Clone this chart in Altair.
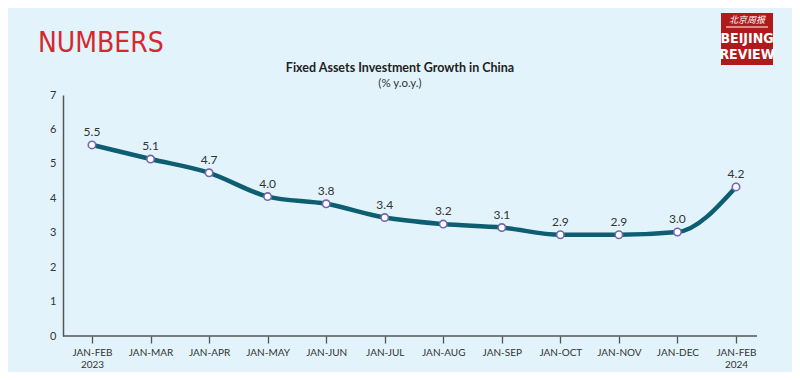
import altair as alt
import pandas as pd

periods = ["JAN-FEB 2023", "JAN-MAR", "JAN-APR", "JAN-MAY", "JAN-JUN", "JAN-JUL",
           "JAN-AUG", "JAN-SEP", "JAN-OCT", "JAN-NOV", "JAN-DEC", "JAN-FEB 2024"]
values = [5.55, 5.14, 4.74, 4.05, 3.84, 3.44, 3.25, 3.15, 2.94, 2.94, 3.02, 4.33]
labels = ["5.5", "5.1", "4.7", "4.0", "3.8", "3.4", "3.2", "3.1", "2.9", "2.9", "3.0", "4.2"]
y_ticks = [0, 1, 2, 3, 4, 5, 6, 7]

df = pd.DataFrame({"idx": list(range(len(periods))), "period": periods,
                   "value": values, "label": labels})
one = pd.DataFrame({"k": [0]})

W, H = 694, 241
BG = "#E2F3FB"
FONT = "Lato"
NARROW = "Liberation Sans Narrow, DejaVu Sans Condensed, Roboto, sans-serif"

arr = "[" + ",".join("'" + p + "'" for p in periods) + "]"
xscale = alt.Scale(domain=[-0.495, 11.359], nice=False, zero=False)
yscale = alt.Scale(domain=[0, 7], nice=False)

xaxis = alt.Axis(title=None, values=list(range(len(periods))), domain=False,
                 grid=False, tickSize=7, tickColor="#555555", tickWidth=1.3,
                 labelExpr="split(" + arr + "[datum.value], ' ')",
                 labelPadding=4, labelFontSize=10, labelColor="#333333",
                 labelFont=FONT, labelLineHeight=12, labelFlush=False,
                 labelOverlap=False)
yaxis = alt.Axis(title=None, values=y_ticks, tickCount=8, grid=False, ticks=False,
                 domainColor="#555555", domainWidth=1.5, labelPadding=7,
                 labelFontSize=11, labelColor="#333333", labelFont=FONT,
                 labelOverlap=False, labelFlush=False)


def xenc():
    return alt.X("idx:Q", scale=xscale, axis=xaxis)


def yenc():
    return alt.Y("value:Q", scale=yscale, axis=yaxis)


base = alt.Chart(df)
line = base.mark_line(interpolate="monotone", color="#0D5E71", strokeWidth=4.5).encode(x=xenc(), y=yenc())
pts = base.mark_circle(color="white", stroke="#7267B0", strokeWidth=1.6, opacity=1, size=55).encode(
    x=xenc(), y=yenc())
txt = base.mark_text(dy=-13, fontSize=12, color="#333333", font=FONT).encode(
    x=xenc(), y=yenc(), text="label:N")

deco = alt.Chart(one)
xaxis_line = deco.mark_rule(color="#555555", strokeWidth=1.5).encode(
    x=alt.value(0), x2=alt.value(W), y=alt.value(H))
title = deco.mark_text(text="Fixed Assets Investment Growth in China", font=FONT,
                       fontWeight="bold", fontSize=12.5, color="#222222",
                       align="center", baseline="middle").encode(x=alt.value(337), y=alt.value(-27))
subtitle = deco.mark_text(text="(% y.o.y.)", font=FONT, fontSize=11.5, color="#333333",
                          align="center", baseline="middle").encode(x=alt.value(337), y=alt.value(-11))
numbers = deco.mark_text(text="NUMBERS", font=NARROW, fontSize=28,
                         color="#D42A2F", align="left", baseline="alphabetic").encode(
    x=alt.value(-25), y=alt.value(-43))
logo = deco.mark_rect(color="#B01A1D").encode(
    x=alt.value(658), x2=alt.value(710), y=alt.value(-82), y2=alt.value(-30))
logo_cn = deco.mark_text(text="北京周报", font="Noto Sans CJK SC", fontSize=9, color="white",
                         align="center", baseline="middle", fontStyle="italic").encode(
    x=alt.value(684), y=alt.value(-75))
logo_rule = deco.mark_rule(color="white", strokeWidth=1).encode(
    x=alt.value(663), x2=alt.value(705), y=alt.value(-68))
logo_b = deco.mark_text(text="BEIJING", font=NARROW, fontWeight="bold",
                        fontSize=14, color="white", align="center", baseline="middle").encode(
    x=alt.value(684), y=alt.value(-56))
logo_r = deco.mark_text(text="REVIEW", font=NARROW, fontWeight="bold",
                        fontSize=14, color="white", align="center", baseline="middle").encode(
    x=alt.value(684), y=alt.value(-40))

chart = alt.layer(line, pts, txt, xaxis_line, title, subtitle, numbers,
                  logo, logo_cn, logo_rule, logo_b, logo_r).properties(
    width=W, height=H,
    autosize=alt.AutoSizeParams(type="none"),
    padding={"left": 55, "top": 87, "right": 35, "bottom": 36},
    background=BG,
).configure_view(stroke=None)

chart.save("out.html", embed_options={"renderer": "svg", "actions": False})
